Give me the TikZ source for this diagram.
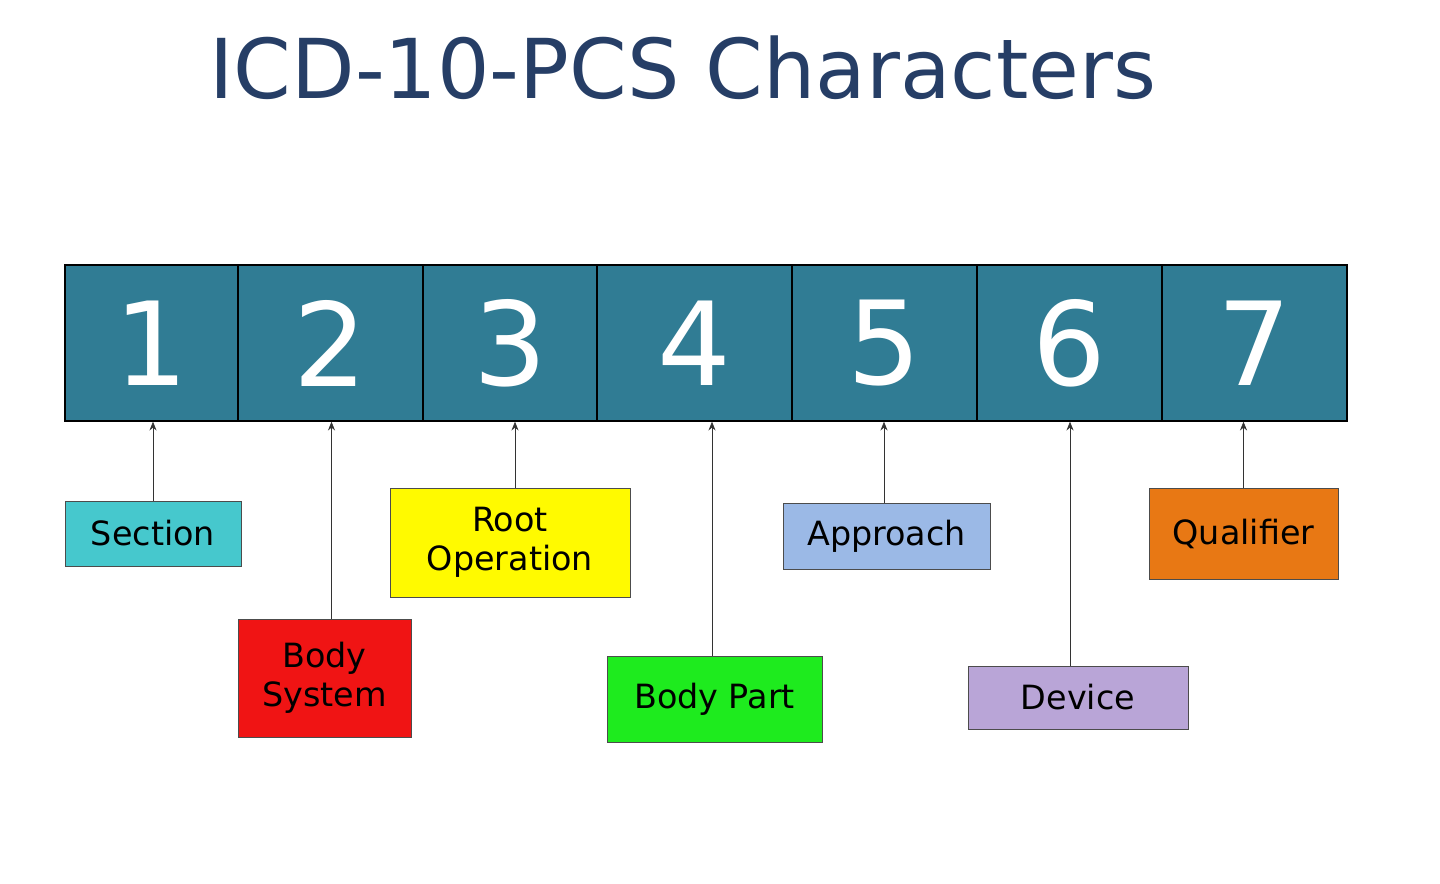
\documentclass[tikz,border=0pt]{standalone}
\usepackage{fontspec}
\setmainfont{DejaVu Sans}
\usetikzlibrary{arrows.meta,positioning}
\definecolor{pcsteal}{RGB}{48,124,148}
\definecolor{pcstitle}{RGB}{38,62,102}
\definecolor{pcscyan}{RGB}{70,200,205}
\definecolor{pcsred}{RGB}{240,20,20}
\definecolor{pcsyellow}{RGB}{255,250,0}
\definecolor{pcsgreen}{RGB}{30,235,30}
\definecolor{pcsblue}{RGB}{155,185,230}
\definecolor{pcslilac}{RGB}{185,165,215}
\definecolor{pcsorange}{RGB}{232,120,20}
\begin{document}
\begin{tikzpicture}[x=0.02cm, y=-0.02cm,
    cell/.style={draw=black, thick, fill=pcsteal, text=white, inner sep=0pt,
      minimum height=3.12cm, font=\fontsize{66}{66}\selectfont},
    tag/.style={draw=black!70, inner sep=0pt, align=center,
      font=\fontsize{19}{22}\selectfont},
    ptr/.style={-{Stealth[length=5pt,width=4pt]}, black!80, thin}]
    \useasboundingbox (0,0) rectangle (1440,884);

    % Title
    \node[text=pcstitle, font=\fontsize{47}{50}\selectfont] (title) at (683,68) {ICD-10-PCS Characters};

    % Character cells
    \node[cell, minimum width=3.46cm] (c1) at (151.5,343) {1};
    \node[cell, minimum width=3.70cm] (c2) at (330.5,343) {2};
    \node[cell, minimum width=3.48cm] (c3) at (510,343) {3};
    \node[cell, minimum width=3.90cm] (c4) at (694.5,343) {4};
    \node[cell, minimum width=3.70cm] (c5) at (884.5,343) {5};
    \node[cell, minimum width=3.70cm] (c6) at (1069.5,343) {6};
    \node[cell, minimum width=3.70cm] (c7) at (1254.5,343) {7};

    % Meaning boxes
    \node[tag, fill=pcscyan, minimum width=3.52cm, minimum height=1.30cm] (section) at (153,533.5) {Section};
    \node[tag, fill=pcsred, minimum width=3.46cm, minimum height=2.36cm] (bodysys) at (324.5,678) {Body\\System};
    \node[tag, fill=pcsyellow, minimum width=4.80cm, minimum height=2.18cm] (rootop) at (510,542.5) {Root\\Operation};
    \node[tag, fill=pcsgreen, minimum width=4.30cm, minimum height=1.72cm] (bodypart) at (714.5,699) {Body Part};
    \node[tag, fill=pcsblue, minimum width=4.14cm, minimum height=1.32cm] (approach) at (886.5,536) {Approach};
    \node[tag, fill=pcslilac, minimum width=4.40cm, minimum height=1.26cm] (device) at (1078,697.5) {Device};
    \node[tag, fill=pcsorange, minimum width=3.78cm, minimum height=1.82cm] (qualifier) at (1243.5,533.5) {Qualifier};

    % Pointers
    \draw[ptr] (section.north) -- (section.north |- c1.south);
    \draw[ptr] ([xshift=0.14cm]bodysys.north) -- ([xshift=0.14cm]bodysys.north |- c2.south);
    \draw[ptr] ([xshift=0.10cm]rootop.north) -- ([xshift=0.10cm]rootop.north |- c3.south);
    \draw[ptr] ([xshift=-0.05cm]bodypart.north) -- ([xshift=-0.05cm]bodypart.north |- c4.south);
    \draw[ptr] ([xshift=-0.05cm]approach.north) -- ([xshift=-0.05cm]approach.north |- c5.south);
    \draw[ptr] ([xshift=-0.16cm]device.north) -- ([xshift=-0.16cm]device.north |- c6.south);
    \draw[ptr] (qualifier.north) -- (qualifier.north |- c7.south);
\end{tikzpicture}
\end{document}
